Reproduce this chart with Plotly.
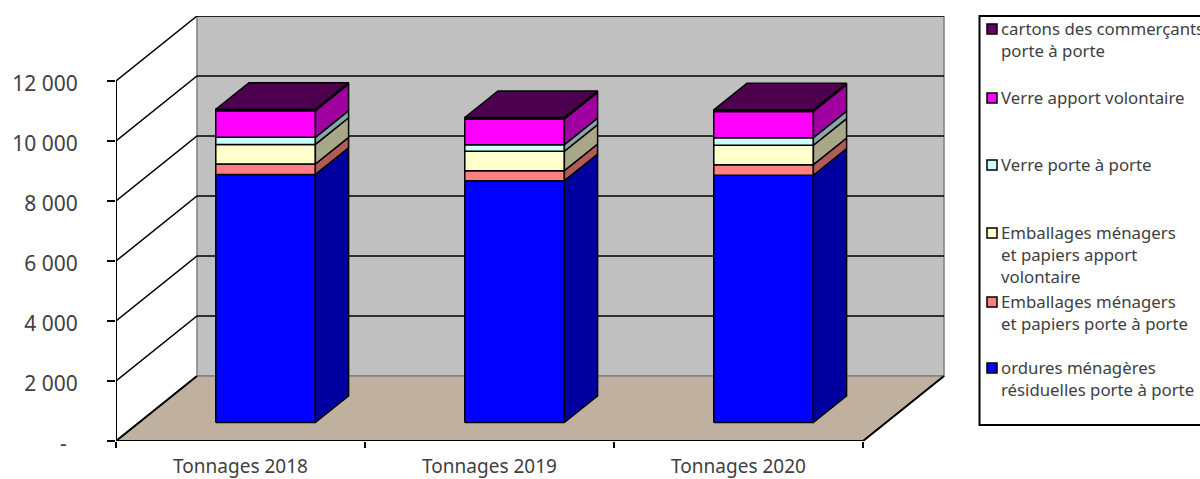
import plotly.graph_objects as go

# ---------- data ----------
categories = ["Tonnages 2018", "Tonnages 2019", "Tonnages 2020"]
series_names = [
    "ordures ménagères<br>résiduelles porte à porte",
    "Emballages ménagers<br>et papiers porte à porte",
    "Emballages ménagers<br>et papiers apport<br>volontaire",
    "Verre porte à porte",
    "Verre apport volontaire",
    "cartons des commerçants<br>porte à porte",
]
ordures = [8270, 8060, 8240]
emb_pap = [345, 335, 355]
emb_pav = [655, 645, 645]
verre_pap = [235, 220, 250]
verre_pav = [885, 855, 880]
cartons = [50, 50, 50]
values = [ordures, emb_pap, emb_pav, verre_pap, verre_pav, cartons]

y_ticks = [0, 2000, 4000, 6000, 8000, 10000, 12000]
y_labels = ["-\u00a0\u00a0", "2 000", "4 000", "6 000", "8 000", "10 000", "12 000"]

front_colors = ["#0000FF", "#FF8080", "#FFFFCC", "#CCFFFF", "#FF00FF", "#660066"]
side_colors = ["#0000A0", "#B05A5A", "#A8A888", "#88A8A8", "#A000A0", "#4D004D"]
top_color = "#4D004D"
WALL = "#C0C0C0"
FLOOR = "#C0B0A0"
TEXT = "#404040"
FONT = "Noto Sans"

# ---------- oblique projection (in axis units) ----------
W, H = 1200, 479
L, R, T, B = 116, 945, 16, 441
PX_PER_CAT = 249.0
PX_PER_VAL = 0.03
DX = 81 / PX_PER_CAT        # full floor depth, in categories
DY = 65 / PX_PER_VAL        # full floor depth, in value units
D0, D1 = 0.285, 0.695       # bar front / back as a fraction of the depth
HALF = 0.2                  # half bar width
SHIFT = 0.008


def proj(x, v, d):
    return x + d * DX, v + d * DY


def poly(points):
    xs = [p[0] for p in points] + [points[0][0]]
    ys = [p[1] for p in points] + [points[0][1]]
    return xs, ys


fig = go.Figure()


def add_poly(xs, ys, fill, line, width=1.5, name=""):
    fig.add_trace(go.Scatter(x=xs, y=ys, mode="lines", fill="toself", fillcolor=fill,
                             line=dict(color=line, width=width), name=name,
                             hoverinfo="skip", showlegend=False))


def add_lines(xs, ys, color, width=1.5):
    fig.add_trace(go.Scatter(x=xs, y=ys, mode="lines", line=dict(color=color, width=width),
                             hoverinfo="skip", showlegend=False))


n = len(categories)
top_val = max(y_ticks)

# back wall and floor
add_poly(*poly([proj(0, 0, 1), proj(n, 0, 1), proj(n, top_val, 1), proj(0, top_val, 1)]), WALL, "#808080", 1.5, "wall")
add_poly(*poly([(0, 0), (n, 0), proj(n, 0, 1), proj(0, 0, 1)]), FLOOR, "#808080", 1.5, "floor")

# gridlines: side wall + back wall
gx, gy = [], []
for v in y_ticks[1:]:
    a = proj(0, v, 0)
    b = proj(0, v, 1)
    c = proj(n, v, 1)
    gx += [a[0], b[0], c[0], None]
    gy += [a[1], b[1], c[1], None]
add_lines(gx, gy, "#000000")

# floor edges, axes
add_lines([proj(0, 0, 1)[0], 0, n, proj(n, 0, 1)[0]], [proj(0, 0, 1)[1], 0, 0, proj(n, 0, 1)[1]], "#000000", 2)
add_lines([0, 0], [0, top_val], "#000000", 2)

# stacked oblique columns
for s, series in enumerate(values):
    fx, fy, sx, sy, tx, ty = [], [], [], [], [], []
    for i in range(n):
        lo = sum(values[k][i] for k in range(s))
        hi = lo + series[i]
        xl, xr = i + 0.5 + SHIFT - HALF, i + 0.5 + SHIFT + HALF
        front = [proj(xl, lo, D0), proj(xr, lo, D0), proj(xr, hi, D0), proj(xl, hi, D0)]
        side = [proj(xr, lo, D0), proj(xr, lo, D1), proj(xr, hi, D1), proj(xr, hi, D0)]
        top = [proj(xl, hi, D0), proj(xr, hi, D0), proj(xr, hi, D1), proj(xl, hi, D1)]
        for pts, ax, ay in ((front, fx, fy), (side, sx, sy), (top, tx, ty)):
            a, b = poly(pts)
            ax += a + [None]
            ay += b + [None]
    add_poly(fx, fy, front_colors[s], "#000000", 1.5, series_names[s].replace("<br>", " "))
    add_poly(sx, sy, side_colors[s], "#000000", 1.5, series_names[s].replace("<br>", " "))
    if s == len(values) - 1:
        add_poly(tx, ty, top_color, "#000000", 1.5, series_names[s].replace("<br>", " "))

# ---------- legend (hand-placed, as in the original) ----------
def px(x):
    return (x - L) / (R - L)


def py(y):
    return (B - y) / (B - T)


legend_tops = [16, 85, 152, 220, 289, 355]  # pixel top of each entry, top to bottom
legend_order = [5, 4, 3, 2, 1, 0]
shapes = [dict(type="rect", xref="paper", yref="paper", x0=px(979.5), x1=px(1210), y0=py(425), y1=py(16),
               line=dict(color="#000000", width=2), fillcolor="#FFFFFF", layer="below")]
annotations = []
for top, s in zip(legend_tops, legend_order):
    shapes.append(dict(type="rect", xref="paper", yref="paper", x0=px(987), x1=px(997),
                       y0=py(top + 18), y1=py(top + 8), line=dict(color="#000000", width=1.5),
                       fillcolor=front_colors[s]))
    annotations.append(dict(text=series_names[s], xref="paper", yref="paper", x=px(1000), y=py(top),
                            xanchor="left", yanchor="top", align="left", showarrow=False,
                            font=dict(family=FONT, size=16.8, color=TEXT), borderpad=0))

fig.update_layout(
    width=W, height=H, autosize=False,
    margin=dict(l=L, r=W - R, t=T, b=H - B, pad=0),
    paper_bgcolor="#FFFFFF", plot_bgcolor="#FFFFFF",
    showlegend=False, shapes=shapes, annotations=annotations,
    font=dict(family=FONT, color=TEXT),
    xaxis=dict(range=[0, (R - L) / PX_PER_CAT], tickmode="array", automargin=False,
               tickvals=[i + 0.5 for i in range(n)], ticktext=categories,
               ticks="", showgrid=False, zeroline=False, showline=False,
               tickfont=dict(family=FONT, size=19, color=TEXT), ticklabelstandoff=12,
               minor=dict(tickmode="array", tickvals=list(range(n + 1)), ticks="outside",
                          ticklen=6, tickwidth=2, tickcolor="#000000", showgrid=False)),
    yaxis=dict(range=[0, (B - T) / PX_PER_VAL], tickmode="array", automargin=False,
               tickvals=y_ticks, ticktext=y_labels, ticks="outside", ticklen=8, tickwidth=2,
               tickcolor="#000000", showgrid=False, zeroline=False, showline=False,
               tickfont=dict(family=FONT, size=21, color=TEXT), ticklabelstandoff=25,
               ticklabelshift=3),
)

fig.write_html("out.html", config={"displayModeBar": False},
               post_script="document.documentElement.style.overflow='hidden';document.body.style.margin='0';")
